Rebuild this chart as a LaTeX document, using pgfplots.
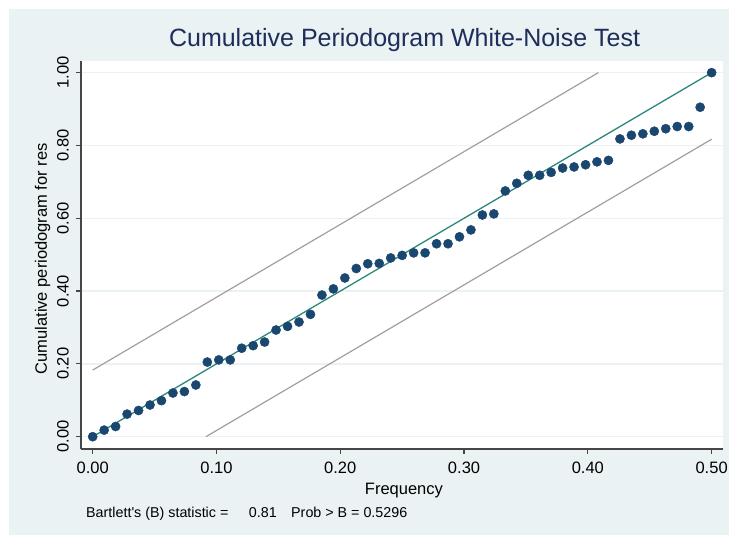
\documentclass[border=0pt]{standalone}
\usepackage{pgfplots}
\pgfplotsset{compat=1.18}
\usepackage{fontspec}
\setmainfont{Liberation Sans}

\definecolor{stbg}{RGB}{234,242,243}
\definecolor{stgrid}{RGB}{234,242,243}
\definecolor{stnavy}{RGB}{26,71,111}
\definecolor{stteal}{RGB}{45,135,125}
\definecolor{stband}{RGB}{160,160,160}
\definecolor{sttitle}{RGB}{30,45,90}
\definecolor{staxis}{RGB}{70,70,70}

% cumulative periodogram of the residuals, frequencies k/108
\pgfplotstableread{
f        cp
0.00000  0.000
0.00926  0.018
0.01852  0.028
0.02778  0.062
0.03704  0.072
0.04630  0.087
0.05556  0.099
0.06481  0.120
0.07407  0.124
0.08333  0.142
0.09259  0.205
0.10185  0.211
0.11111  0.211
0.12037  0.243
0.12963  0.250
0.13889  0.260
0.14815  0.293
0.15741  0.303
0.16667  0.315
0.17593  0.336
0.18519  0.389
0.19444  0.406
0.20370  0.436
0.21296  0.462
0.22222  0.475
0.23148  0.476
0.24074  0.491
0.25000  0.498
0.25926  0.505
0.26852  0.505
0.27778  0.530
0.28704  0.530
0.29630  0.549
0.30556  0.568
0.31481  0.609
0.32407  0.612
0.33333  0.675
0.34259  0.696
0.35185  0.718
0.36111  0.718
0.37037  0.726
0.37963  0.738
0.38889  0.741
0.39815  0.747
0.40741  0.755
0.41667  0.759
0.42593  0.818
0.43519  0.828
0.44444  0.832
0.45370  0.839
0.46296  0.846
0.47222  0.852
0.48148  0.852
0.49074  0.905
0.50000  1.000
}\cpdata

\begin{document}
\begin{tikzpicture}
\fill[white] (0pt,0pt) rectangle (729pt,537pt);
\fill[stbg] (9pt,2pt) rectangle (729pt,528pt);
\useasboundingbox (0pt,0pt) rectangle (729pt,537pt);
\begin{axis}[
  at={(81pt,88pt)}, anchor=south west,
  scale only axis, width=642pt, height=388pt,
  xmin=-0.00945, xmax=0.5092, ymin=-0.0338, ymax=1.032,
  axis lines=left,
  axis line style={-, draw=staxis, line width=1.2pt},
  axis background/.style={fill=white},
  tick align=outside, major tick length=5pt,
  tick style={draw=staxis, line width=1.2pt},
  xtick={0,0.1,0.2,0.3,0.4,0.5},
  xticklabels={0.00,0.10,0.20,0.30,0.40,0.50},
  ytick={0,0.2,0.4,0.6,0.8,1},
  yticklabels={0.00,0.20,0.40,0.60,0.80,1.00},
  ymajorgrids,
  major grid style={draw=stgrid, line width=1.4pt},
  ticklabel style={font=\fontsize{16.5}{18}\selectfont, inner sep=0pt},
  xticklabel style={anchor=north},
  xticklabel shift=7.7pt,
  yticklabel style={rotate=90, anchor=south},
  yticklabel shift=7pt,
  title={Cumulative Periodogram White-Noise Test},
  title style={at={(axis description cs:0.504,1.0206)}, anchor=base,
    font=\fontsize{25}{28}\selectfont, color=sttitle, inner sep=0pt},
  xlabel={Frequency},
  xlabel style={at={(axis description cs:0.503,-0.116)}, anchor=base,
    font=\fontsize{16.5}{18}\selectfont, inner sep=0pt},
  ylabel={Cumulative periodogram for res},
  ylabel style={at={(axis description cs:-0.053,0.49)}, anchor=base,
    font=\fontsize{16.5}{18}\selectfont, inner sep=0pt},
  clip=false,
]
% Bartlett bands
\addplot[stband, line width=1.2pt] coordinates {(0,0.183) (0.4085,1.0)};
\addplot[stband, line width=1.2pt] coordinates {(0.0915,0) (0.5,0.817)};
% white-noise reference line
\addplot[stteal, line width=1.3pt] coordinates {(0,0) (0.5,1)};
% cumulative periodogram
\addplot[only marks, mark=*, mark size=4.6pt, draw=stnavy, fill=stnavy]
  table[x=f, y=cp] {\cpdata};
\end{axis}
\node[anchor=base west, inner sep=0pt, font=\fontsize{14.3}{16}\selectfont]
  at (86pt,19.3pt) {Bartlett\textquotesingle s (B) statistic =};
\node[anchor=base east, inner sep=0pt, font=\fontsize{14.3}{16}\selectfont]
  at (277pt,19.3pt) {0.81};
\node[anchor=base west, inner sep=0pt, font=\fontsize{14.3}{16}\selectfont]
  at (291pt,19.3pt) {Prob > B = 0.5296};
\end{tikzpicture}
\end{document}
